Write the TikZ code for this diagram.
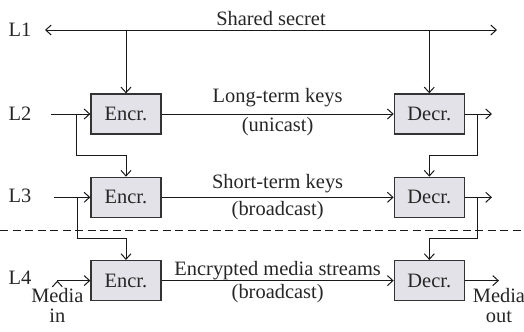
\documentclass[tikz,border=0pt]{standalone}
\usepackage{fontspec}
\setmainfont{Liberation Serif}
\usetikzlibrary{arrows.meta,positioning,calc}
\definecolor{boxgray}{RGB}{228,226,233}

\begin{document}
\begin{tikzpicture}
[x=1bp, y=1bp, node distance=42bp, >={Straight Barb[length=5.5bp,width=10bp]},
% STYLES
every node/.style={font=\fontsize{20.5}{19.5}\selectfont, text=black!85},
% The block style is used to draw the encryption and decryption boxes
block/.style={rectangle, draw=black!80, line width=1.3bp, fill=boxgray, minimum width=70bp, minimum height=40bp, inner sep=0pt},
% The layer style is used to draw the names of the levels
layer/.style={inner sep=0pt},
% The keylabel style is used to write what travels on a line
keylabel/.style={inner sep=0pt},
% The wire style is used for every connection
wire/.style={line width=1bp, draw=black!90}]

\useasboundingbox (0,0) rectangle (524,-331);

% Draw boxes
\node [block] (encr2) at (126,-114) {Encr.};
\node [block, below=of encr2] (encr3) {Encr.};
\node [block, below=of encr3] (encr4) {Encr.};
\node [block, right=232bp of encr2] (decr2) {Decr.};
\node [block, right=232bp of encr3] (decr3) {Decr.};
\node [block, right=232bp of encr4] (decr4) {Decr.};

% Level names
\node [layer] (l1) at (20,-30) {L1};
\node [layer] (l2) at (20,-114) {L2};
\node [layer] (l3) at (20,-196) {L3};
\node [layer] (l4) at (20,-278) {L4};

% Points on the lines
\coordinate (sl) at (45,-30);
\coordinate (sr) at (497,-30);
\coordinate [left=39bp of encr2] (in2);
\coordinate [left=36bp of encr3] (in3);
\coordinate [left=33bp of encr4] (in4);
\coordinate [left=14bp of encr2] (fork2);
\coordinate [left=13bp of encr3] (fork3);
\coordinate [right=13bp of decr2] (join2);
\coordinate [right=13bp of decr3] (join3);
\coordinate [right=27bp of decr2] (out2);
\coordinate [right=27bp of decr3] (out3);
\coordinate [right=34bp of decr4] (out4);
\coordinate (lmid23) at ($(encr2.south)!0.5!(encr3.north)$);
\coordinate (lmid34) at ($(encr3.south)!0.5!(encr4.north)$);
\coordinate (rmid23) at ($(decr2.south)!0.5!(decr3.north)$);
\coordinate (rmid34) at ($(decr3.south)!0.5!(decr4.north)$);
\coordinate (dashl) at (0,-230);
\coordinate (dashr) at (524,-230);

% Shared secret
\draw [wire, <->] (sl) -- (sr)
    node [keylabel, midway, anchor=base, yshift=5bp] (secret) {Shared secret};

% Key and media lines
\draw [wire, ->] (encr2) -- (decr2)
    node [keylabel, midway, anchor=base, yshift=12bp] (longterm) {Long-term keys}
    node [keylabel, midway, anchor=base, yshift=-17bp] (unicast) {(unicast)};
\draw [wire, ->] (encr3) -- (decr3)
    node [keylabel, midway, anchor=base, yshift=9bp] (shortterm) {Short-term keys}
    node [keylabel, midway, anchor=base, yshift=-18bp] (bcast3) {(broadcast)};
\draw [wire, ->] (encr4) -- (decr4)
    node [keylabel, midway, anchor=base, yshift=5bp] (streams) {Encrypted media streams}
    node [keylabel, midway, anchor=base, yshift=-18bp] (bcast4) {(broadcast)};

% Draw the links between levels
\path [wire, ->]
    (encr2.north |- sl) edge (encr2.north)
    (decr2.north |- sl) edge (decr2.north)
    (in2) edge (encr2)
    (in3) edge (encr3)
    (in4) edge (encr4)
    (decr2) edge (out2)
    (decr3) edge (out3)
    (decr4) edge (out4);
\draw [wire, ->] (fork2) |- (lmid23) -- (encr3.north);
\draw [wire, ->] (fork3) |- (lmid34) -- (encr4.north);
\draw [wire, ->] (join2) |- (rmid23) -- (decr3.north);
\draw [wire, ->] (join3) |- (rmid34) -- (decr4.north);

% Media in and out
\node [keylabel, below=8bp of in4, align=center] (mediain) {Media\\in};
\node [keylabel, below=8bp of out4, align=center] (mediaout) {Media\\out};

% Separation of the levels
\draw [wire, dash pattern=on 8bp off 4.5bp] (dashl) -- (dashr);

\end{tikzpicture}
\end{document}
